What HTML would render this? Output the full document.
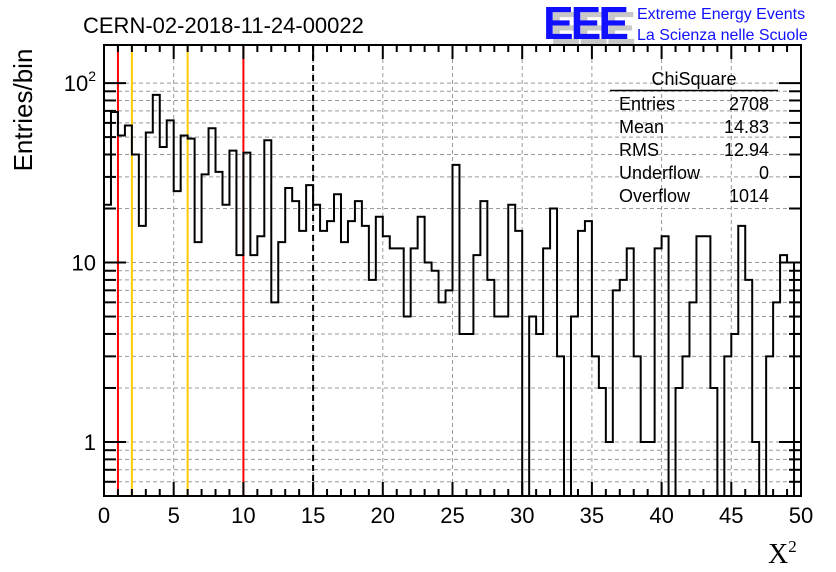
<!DOCTYPE html>
<html><head><meta charset="utf-8"><style>
body{margin:0;background:#fff;width:836px;height:572px;overflow:hidden}
svg{display:block;font-family:"Liberation Sans",sans-serif}
</style></head><body>
<svg id="c" width="836" height="572">
<defs><clipPath id="pc"><rect x="100" y="40" width="705" height="457"/></clipPath></defs>
<text x="83" y="33" font-size="22">CERN-02-2018-11-24-00022</text>
<g>
<text x="550" y="44" font-size="46" font-weight="bold" fill="#c8c8c8" letter-spacing="-3">EEE</text>
<text x="543" y="39" font-size="46" font-weight="bold" fill="#1010ff" letter-spacing="-3">EEE</text>
<text x="637" y="19" font-size="16" fill="#1010ff">Extreme Energy Events</text>
<text x="637" y="40" font-size="16" fill="#1010ff">La Scienza nelle Scuole</text>
</g>
<text transform="translate(32,110) rotate(-90)" text-anchor="middle" font-size="26">Entries/bin</text>
<text x="768" y="563" font-size="28" font-family="Liberation Serif,serif">X<tspan font-size="17" dy="-11">2</tspan></text>
<g id="grid"></g><g id="marks"></g><g id="hist" clip-path="url(#pc)"></g><g id="axes"></g>
<g font-size="18">
<text x="694" y="85" text-anchor="middle">ChiSquare</text>
<line x1="610" y1="90.5" x2="778" y2="90.5" stroke="#000" stroke-width="1.5"/>
<text x="619" y="110">Entries</text><text x="769" y="110" text-anchor="end">2708</text>
<text x="619" y="133">Mean</text><text x="769" y="133" text-anchor="end">14.83</text>
<text x="619" y="156">RMS</text><text x="769" y="156" text-anchor="end">12.94</text>
<text x="619" y="179">Underflow</text><text x="769" y="179" text-anchor="end">0</text>
<text x="619" y="202">Overflow</text><text x="769" y="202" text-anchor="end">1014</text>
</g>
</svg>
<script>
const counts=[21,69,51,58,40,16,53,86,44,62,25,51,49,13,31,56,32,21,42,11,41,11,14,48,6,13,26,22,15,27,21,15,17,24,13,17,22,16,8,18,14,12,12,5,12,18,10,9,6,7,35,4,4,11,22,8,5,5,21,15,0,5,4,12,20,3,0,5,15,17,3,2,1,7,8,12,3,1,1,12,14,0,2,3,6,14,14,2,0,3,4,16,8,1,0,3,6,11,10,0];
const binEdges=[0,50];
const xTicks=[0,5,10,15,20,25,30,35,40,45,50];
const yDecades=[1,10,100];
const yDecadeLabels=["1","10","10²"];
const redLines=[1,10];
const yellowLines=[2,6];
const meanLine=[15];
const NS="http://www.w3.org/2000/svg";
const L=104,R=801,T=45,B=496,YMIN=0.5,YMAX=163;
const sx=v=>L+(v-binEdges[0])/(binEdges[1]-binEdges[0])*(R-L);
const sy=v=>B-(Math.log10(v)-Math.log10(YMIN))/(Math.log10(YMAX)-Math.log10(YMIN))*(B-T);
function mk(p,t,a){const e=document.createElementNS(NS,t);for(const k in a)e.setAttribute(k,a[k]);document.getElementById(p).appendChild(e);return e;}
for(const d of [0.1,1,10,100])for(let m=1;m<10;m++){const v=d*m;if(v<YMIN||v>YMAX)continue;const y=sy(v);
const g=mk('grid','line',{x1:L,x2:R,y1:y,y2:y,stroke:'#999','stroke-dasharray':'4,3','stroke-width':1});

}
xTicks.forEach(t=>{const x=sx(t);const g=mk('grid','line',{x1:x,x2:x,y1:T,y2:B,stroke:'#999','stroke-dasharray':'4,3','stroke-width':1});

});
redLines.forEach(v=>{const e=mk('marks','line',{x1:sx(v),x2:sx(v),y1:T,y2:B,stroke:'#ff0000','stroke-width':2});

});
yellowLines.forEach(v=>{const e=mk('marks','line',{x1:sx(v),x2:sx(v),y1:T,y2:B,stroke:'#ffcc00','stroke-width':2});

});
meanLine.forEach(v=>{const e=mk('marks','line',{x1:sx(v),x2:sx(v),y1:T,y2:B,stroke:'#000','stroke-width':2,'stroke-dasharray':'6,4'});

});
const n=counts.length,w=(binEdges[1]-binEdges[0])/n;
const yv=v=>v<=0?B+5:Math.max(T,sy(v));
let d='M'+sx(0)+','+yv(counts[0]);
for(let i=0;i<n;i++){const y=yv(counts[i]);d+=' L'+sx(i*w)+','+y+' L'+sx((i+1)*w)+','+y;}
const h=mk('hist','path',{d:d,fill:'none',stroke:'#000','stroke-width':2});


const f=mk('axes','rect',{x:L,y:T,width:R-L,height:B-T,fill:'none',stroke:'#000','stroke-width':2});


for(let v=0;v<=50;v++){const x=sx(v),len=v%5===0?14:7;
mk('axes','line',{x1:x,x2:x,y1:B,y2:B-len,stroke:'#000','stroke-width':2});
mk('axes','line',{x1:x,x2:x,y1:T,y2:T+len,stroke:'#000','stroke-width':2});}
xTicks.forEach(t=>{const e=mk('axes','text',{x:sx(t),y:B+27,'text-anchor':'middle','font-size':22});e.textContent=t;

});
for(const dd of [0.1,1,10,100])for(let m=1;m<10;m++){const v=dd*m;if(v<YMIN||v>YMAX)continue;const y=sy(v),len=m===1?22:12;
mk('axes','line',{x1:L,x2:L+len,y1:y,y2:y,stroke:'#000','stroke-width':2});
mk('axes','line',{x1:R,x2:R-len,y1:y,y2:y,stroke:'#000','stroke-width':2});}
yDecades.forEach((v,i)=>{const e=mk('axes','text',{x:L-8,y:sy(v)+8,'text-anchor':'end','font-size':22});
if(i===2){e.textContent='10';const ts=document.createElementNS(NS,'tspan');ts.setAttribute('font-size','14');ts.setAttribute('dy','-10');ts.textContent='2';e.appendChild(ts);}else e.textContent=yDecadeLabels[i];

});
</script>
</body></html>
